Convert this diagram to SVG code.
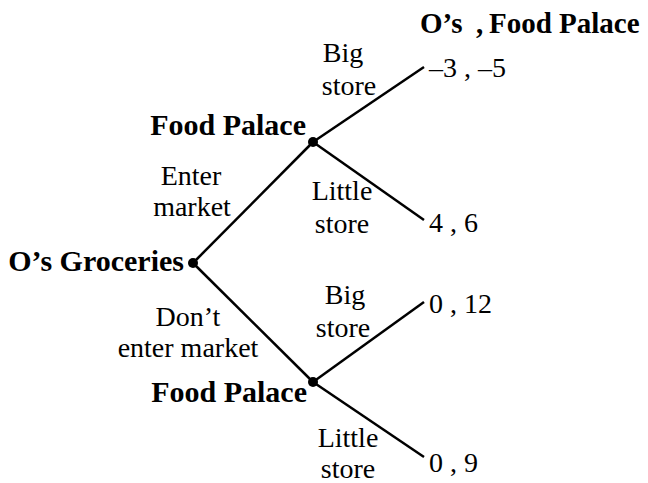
<svg xmlns="http://www.w3.org/2000/svg" width="648" height="483" viewBox="0 0 648 483">
<style>
text{font-family:"Liberation Serif","Times New Roman",serif;font-size:28px;fill:#000}
.b{font-weight:bold;font-size:30px}
.h{font-weight:bold;font-size:29px}
.m{text-anchor:middle}
.e{text-anchor:end}
.edge{stroke:#000;stroke-width:2.5;fill:none}
.dot{fill:#000}
</style>
<rect width="648" height="483" fill="#fff"/>
<g id="connectors">
<line class="edge" x1="193" y1="263" x2="313" y2="142"/>
<line class="edge" x1="193" y1="263" x2="313" y2="382"/>
<line class="edge" x1="313" y1="142" x2="424" y2="67"/>
<line class="edge" x1="313" y1="142" x2="424" y2="220"/>
<line class="edge" x1="313" y1="382" x2="424" y2="302"/>
<line class="edge" x1="313" y1="382" x2="424" y2="457"/>
<text class="m" x="343" y="62">Big</text>
<text class="m" x="349" y="95">store</text>
<text class="m" x="191" y="185">Enter</text>
<text class="m" x="192" y="216">market</text>
<text class="m" x="342" y="200">Little</text>
<text class="m" x="342" y="233">store</text>
<text class="m" x="345" y="304">Big</text>
<text class="m" x="343" y="337">store</text>
<text class="m" x="188" y="326">Don’t</text>
<text class="m" x="188" y="357">enter market</text>
<text class="m" x="348" y="447">Little</text>
<text class="m" x="348" y="478">store</text>
</g>
<g id="header"><text class="h" x="420" y="33">O’s<tspan x="476">,</tspan><tspan x="489">Food Palace</tspan></text></g>
<g id="root"><circle class="dot" cx="193" cy="263" r="5"/><text class="b e" x="184" y="271">O’s Groceries</text></g>
<g id="fp-upper"><circle class="dot" cx="313" cy="142" r="5"/><text class="b e" x="306" y="135">Food Palace</text></g>
<g id="fp-lower"><circle class="dot" cx="313" cy="382" r="5"/><text class="b e" x="307" y="402">Food Palace</text></g>
<g id="t1"><text x="429" y="77">–3 , –5</text></g>
<g id="t2"><text x="429" y="232">4 , 6</text></g>
<g id="t3"><text x="429" y="313">0 , 12</text></g>
<g id="t4"><text x="429" y="472">0 , 9</text></g>
</svg>
